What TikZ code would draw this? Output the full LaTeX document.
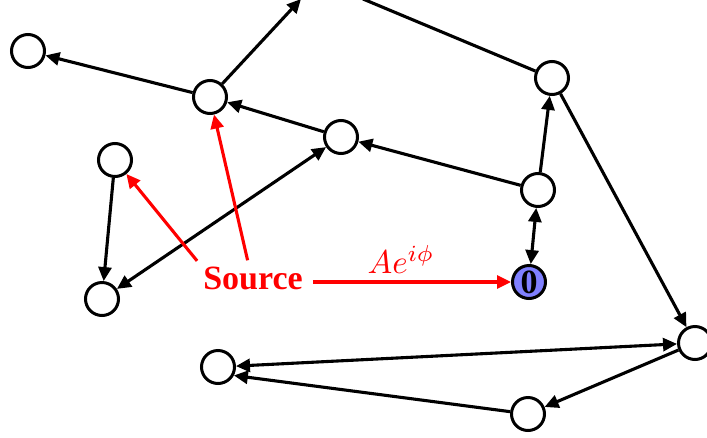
\documentclass[tikz,border=0pt]{standalone}
\usepackage{fontspec}
\setmainfont{Liberation Serif}
\usepackage{graphicx}
\usetikzlibrary{arrows.meta}
\definecolor{zfill}{RGB}{128,128,255}
\tikzset{
  vtx/.style={circle, draw=black, line width=3pt, minimum size=33pt, inner sep=0pt, fill=white},
  zvtx/.style={vtx, fill=zfill, font=\fontsize{34}{38}\selectfont\bfseries},
  edge/.style={line width=3.1pt, draw=black, -{Triangle[length=14pt,width=13pt]}},
  bedge/.style={line width=3.1pt, draw=black, {Triangle[length=14pt,width=13pt]}-{Triangle[length=14pt,width=13pt]}},
  plain/.style={line width=3.1pt, draw=black},
  redge/.style={line width=3.1pt, draw=red, -{Triangle[length=14pt,width=13pt]}},
  srcnode/.style={text=red, font=\fontsize{34}{40}\selectfont\bfseries, inner sep=6pt},
  lblnode/.style={text=red, font=\fontsize{10}{12}\selectfont, inner sep=0pt}
}
\begin{document}
\begin{tikzpicture}[x=1pt, y=-1pt]
\useasboundingbox (0,0) rectangle (707,437);
\node[vtx] (A) at (28,51) {};
\node[vtx] (B) at (210,97) {};
\node[vtx] (C) at (341,137) {};
\node[vtx] (D) at (115,160) {};
\node[vtx] (E) at (102,299) {};
\node[vtx] (F) at (538,190) {};
\node[vtx] (G) at (552,78) {};
\node[zvtx] (Z) at (529,282) {0};
\node[vtx] (H) at (695,343) {};
\node[vtx] (I) at (218,367) {};
\node[vtx] (J) at (528,414) {};
\coordinate (T1) at (301,-1);
\coordinate (T2) at (363,-1);
\node[srcnode, anchor=base] (src) at (253,289) {Source};
\node[lblnode, anchor=base] (lbl) at (401,273) {\scalebox{3.3}{$Ae^{i\phi}$}};

\draw[edge] (B) -- (A);
\draw[edge] (B) -- (T1);
\draw[plain] (T2) -- (G);
\draw[edge] (C) -- (B);
\draw[edge] (F) -- (C);
\draw[edge] (F) -- (G);
\draw[bedge] (F) -- (Z);
\draw[edge] (G) -- (H);
\draw[bedge] (I) -- (H);
\draw[edge] (J) -- (I.-28);
\draw[edge] (H) -- (J);
\draw[bedge] (E) -- (C);
\draw[edge] (D) -- (E);

\draw[redge] (src.163) -- (D);
\draw[redge] (src.107) -- (B);
\draw[redge] ([xshift=4pt]src.east |- Z.west) -- (Z.west);
\end{tikzpicture}
\end{document}
